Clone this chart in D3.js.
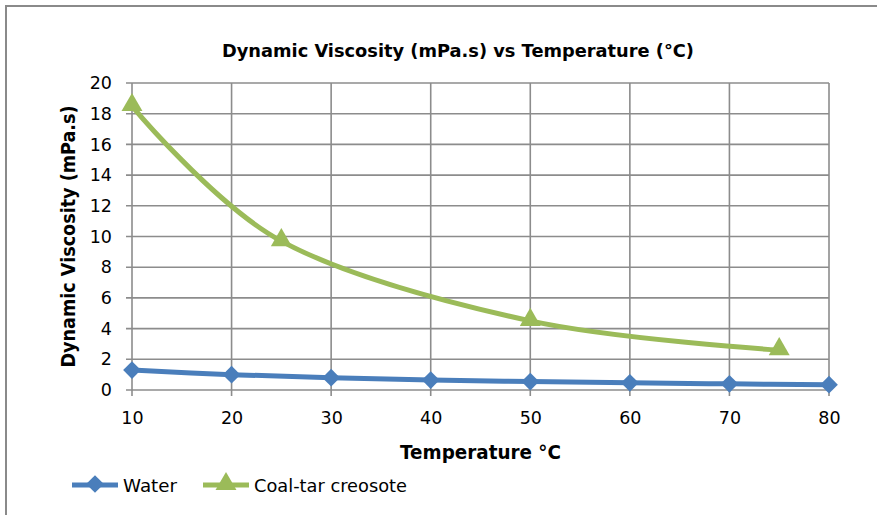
<!DOCTYPE html>
<html>
<head>
<meta charset="utf-8">
<script src="https://cdn.jsdelivr.net/npm/d3@7"></script>
<style>
  body { margin: 0; background: #fff; }
  text { font-family: "DejaVu Sans", sans-serif; fill: #000; }
</style>
</head>
<body>
<div id="chart"></div>
<script>
// data
const waterTemps = [10, 20, 30, 40, 50, 60, 70, 80];
const waterVisc = [1.3, 1.0, 0.8, 0.65, 0.55, 0.47, 0.4, 0.35];
const creosoteTemps = [10, 25, 50, 75];
const creosoteVisc = [18.5, 9.7, 4.5, 2.6];
const xTicks = [10, 20, 30, 40, 50, 60, 70, 80];
const yTicks = [0, 2, 4, 6, 8, 10, 12, 14, 16, 18, 20];

const W = 877, H = 515;
const margin = { top: 83, right: 48, bottom: 125, left: 132 };
const width = W - margin.left - margin.right;
const height = H - margin.top - margin.bottom;

const blue = "#4a7ebb", green = "#9bbb59", grid = "#8c8c8c";

const svgRoot = d3.select("#chart").append("svg")
  .attr("width", W).attr("height", H);

// outer chart frame
svgRoot.append("rect")
  .attr("x", 6).attr("y", 6).attr("width", W + 10).attr("height", H + 10)
  .attr("fill", "none").attr("stroke", "#8a8a8a").attr("stroke-width", 2);

svgRoot.append("text")
  .attr("x", 458).attr("y", 57)
  .attr("text-anchor", "middle")
  .attr("textLength", 472).attr("lengthAdjust", "spacingAndGlyphs")
  .style("font-size", "18.5px").style("font-weight", "bold")
  .text("Dynamic Viscosity (mPa.s) vs Temperature (°C)");

const svg = svgRoot.append("g")
  .attr("transform", `translate(${margin.left},${margin.top})`);

const x = d3.scaleLinear().domain([10, 80]).range([0, width]);
const y = d3.scaleLinear().domain([0, 20]).range([height, 0]);

// gridlines
svg.append("g").selectAll("line").data(yTicks).join("line")
  .attr("x1", -6).attr("x2", width)
  .attr("y1", d => y(d)).attr("y2", d => y(d))
  .attr("stroke", grid).attr("stroke-width", 1.6);
svg.append("g").selectAll("line").data(xTicks).join("line")
  .attr("x1", d => x(d)).attr("x2", d => x(d))
  .attr("y1", 0).attr("y2", height + 6)
  .attr("stroke", grid).attr("stroke-width", 1.6);

// axes (labels only)
const xAxis = svg.append("g")
  .attr("transform", `translate(0,${height})`)
  .call(d3.axisBottom(x).tickValues(xTicks).tickSize(0).tickPadding(22));
const yAxis = svg.append("g")
  .call(d3.axisLeft(y).tickValues(yTicks).tickSize(0).tickPadding(20));
[xAxis, yAxis].forEach(a => {
  a.select(".domain").remove();
  a.selectAll("text").style("font-size", "17.5px").style("font-family", "'DejaVu Sans', sans-serif");
});

svg.append("text")
  .attr("x", width / 2).attr("y", height + 69)
  .attr("text-anchor", "middle")
  .attr("textLength", 161).attr("lengthAdjust", "spacingAndGlyphs")
  .style("font-size", "19.5px").style("font-weight", "bold")
  .text("Temperature °C");

svg.append("text")
  .attr("transform", `translate(${-57},${height / 2}) rotate(-90)`)
  .attr("text-anchor", "middle")
  .attr("textLength", 262).attr("lengthAdjust", "spacingAndGlyphs")
  .style("font-size", "19.5px").style("font-weight", "bold")
  .text("Dynamic Viscosity (mPa.s)");

const line = d3.line()
  .x(d => x(d[0])).y(d => y(d[1]))
  .curve(d3.curveCardinal.tension(0));

const water = waterTemps.map((t, i) => [t, waterVisc[i]]);
const creosote = creosoteTemps.map((t, i) => [t, creosoteVisc[i]]);

const diamond = d3.symbol().type(d3.symbolDiamond2).size(200);
const triangle = d3.symbol().type(d3.symbolTriangle).size(190);

svg.append("path").datum(water)
  .attr("fill", "none").attr("stroke", blue).attr("stroke-width", 5)
  .attr("d", line);
svg.append("path").datum(creosote)
  .attr("fill", "none").attr("stroke", green).attr("stroke-width", 5)
  .attr("d", line);

svg.selectAll(".wpt").data(water).join("path")
  .attr("transform", d => `translate(${x(d[0])},${y(d[1])})`)
  .attr("d", diamond).attr("fill", blue);
svg.selectAll(".cpt").data(creosote).join("path")
  .attr("transform", d => `translate(${x(d[0])},${y(d[1]) - 1})`)
  .attr("d", triangle).attr("fill", green);

// legend
const legend = svgRoot.append("g").attr("transform", "translate(72,485)");
const items = [
  { name: "Water", color: blue, sym: diamond, x0: 0, w: 54 },
  { name: "Coal-tar creosote", color: green, sym: triangle, x0: 131, w: 153 }
];
items.forEach(it => {
  const g = legend.append("g").attr("transform", `translate(${it.x0},0)`);
  g.append("line").attr("x1", 0).attr("x2", 46).attr("y1", 0).attr("y2", 0)
    .attr("stroke", it.color).attr("stroke-width", 5);
  g.append("path").attr("transform", "translate(23,-1)")
    .attr("d", it.sym).attr("fill", it.color);
  g.append("text").attr("x", 51).attr("y", 7)
    .attr("textLength", it.w).attr("lengthAdjust", "spacingAndGlyphs")
    .style("font-size", "18px").text(it.name);
});
</script>
</body>
</html>
